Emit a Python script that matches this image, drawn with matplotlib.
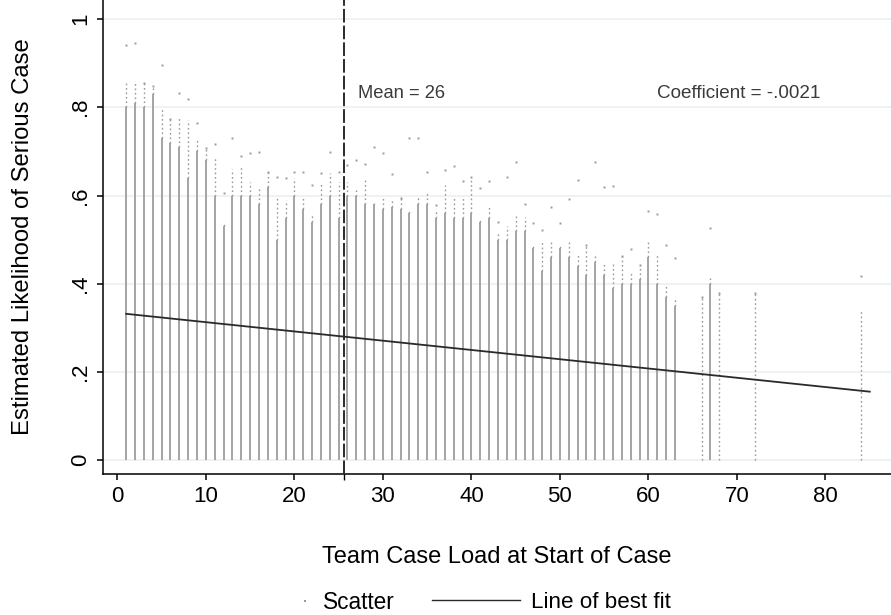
import matplotlib.pyplot as plt
from matplotlib.lines import Line2D

plt.rcParams['font.family'] = ['Liberation Sans', 'DejaVu Sans']

# team case loads that have observations
case_load = list(range(1, 64)) + [66, 67, 68, 72, 84]

# upper end of the dense (solid looking) part of each column
dense_top = [
    0.80, 0.81, 0.80, 0.83, 0.73, 0.72, 0.71, 0.64, 0.70, 0.68,
    0.60, 0.53, 0.60, 0.60, 0.60, 0.58, 0.62, 0.50, 0.55, 0.60,
    0.57, 0.54, 0.58, 0.60, 0.55, 0.60, 0.60, 0.58, 0.58, 0.57,
    0.575, 0.57, 0.56, 0.58, 0.58, 0.55, 0.56, 0.55, 0.55, 0.56,
    0.54, 0.55, 0.50, 0.50, 0.52, 0.52, 0.48, 0.43, 0.46, 0.48,
    0.46, 0.44, 0.42, 0.45, 0.42, 0.39, 0.40, 0.40, 0.41, 0.46,
    0.40, 0.37, 0.35,
    0.0, 0.40, 0.0, 0.0, 0.0,
]
# upper end of the sparse part of each column
sparse_top = [
    0.855, 0.86, 0.855, 0.848, 0.80, 0.773, 0.78, 0.77, 0.726, 0.707,
    0.69, 0.541, 0.66, 0.669, 0.631, 0.617, 0.653, 0.60, 0.59, 0.64,
    0.60, 0.56, 0.63, 0.65, 0.63, 0.63, 0.62, 0.639, 0.583, 0.60,
    0.59, 0.594, 0.567, 0.60, 0.61, 0.57, 0.624, 0.598, 0.60, 0.635,
    0.549, 0.575, 0.515, 0.53, 0.556, 0.552, 0.488, 0.50, 0.50, 0.49,
    0.50, 0.47, 0.488, 0.47, 0.45, 0.45, 0.463, 0.43, 0.443, 0.50,
    0.47, 0.40, 0.37,
    0.371, 0.414, 0.38, 0.379, 0.341,
]
# highest single estimate in each column
peak = [
    0.94, 0.945, 0.855, 0.848, 0.896, 0.773, 0.832, 0.819, 0.764, 0.707,
    0.717, 0.605, 0.731, 0.69, 0.697, 0.699, 0.653, 0.641, 0.639, 0.654,
    0.654, 0.624, 0.650, 0.698, 0.654, 0.669, 0.681, 0.672, 0.709, 0.696,
    0.649, 0.594, 0.731, 0.731, 0.654, 0.579, 0.658, 0.667, 0.632, 0.641,
    0.617, 0.632, 0.541, 0.643, 0.677, 0.58, 0.537, 0.522, 0.575, 0.537,
    0.592, 0.635, 0.488, 0.675, 0.62, 0.622, 0.463, 0.479, 0.443, 0.564,
    0.558, 0.488, 0.458,
    0.371, 0.526, 0.38, 0.379, 0.418,
]

mean_load = 25.6
intercept = 0.334
coef = -0.0021
fit_range = [1, 85]

y_ticks = [0, 0.2, 0.4, 0.6, 0.8, 1]
y_tick_labels = ['0', '.2', '.4', '.6', '.8', '1']
x_ticks = [0, 10, 20, 30, 40, 50, 60, 70, 80]

dot_color = '#999999'
dark = '#2a2a2a'

fig = plt.figure(figsize=(8.91, 6.15), dpi=100)
ax = fig.add_axes([0.1156, 0.2293, 0.8844, 0.7707])

# light horizontal grid
for t in y_ticks:
    ax.axhline(t, color='#e8eff1', lw=1.1, zorder=0)

# columns of estimates
ax.vlines(case_load, 0, dense_top, color=dot_color, lw=1.25, zorder=1)
ax.vlines(case_load, dense_top, sparse_top, color=dot_color, lw=1.0,
          linestyles=(0, (1.2, 2.0)), zorder=1)
ax.plot(case_load, peak, 's', color=dot_color, ms=1.4, mew=0, zorder=1)

# line of best fit
fit_y = [intercept + coef * x for x in fit_range]
ax.plot(fit_range, fit_y, color=dark, lw=1.3, zorder=3)

# mean case load
ax.axvline(mean_load, color=dark, lw=1.4, linestyle=(0, (7, 1.6)), zorder=3)
ax.text(27.2, 0.832, 'Mean = 26', fontsize=13.2, color='#3a3a3a', va='center')
ax.text(61.0, 0.832, 'Coefficient = -.0021', fontsize=13.6, color='#3a3a3a',
        va='center')

ax.set_xlim(-1.62, 87.4)
ax.set_ylim(-0.031, 1.043)
ax.set_xticks(x_ticks)
ax.set_xticks([mean_load], minor=True)
ax.set_yticks(y_ticks)
ax.set_yticklabels(y_tick_labels, rotation=90, va='center')

for side in ['top', 'right']:
    ax.spines[side].set_visible(False)
for side in ['left', 'bottom']:
    ax.spines[side].set_linewidth(1.1)
ax.tick_params(which='both', length=4.5, width=1.1, labelsize=16, pad=4)
ax.tick_params(axis='x', which='minor', length=4.5, width=1.0)

ax.set_xlabel('Team Case Load at Start of Case', fontsize=17, labelpad=28)
ax.set_ylabel('Estimated Likelihood of Serious Case', fontsize=17.2,
              labelpad=26)

# legend, two parts so each handle keeps its own length
scatter_handle = Line2D([], [], marker='s', ms=1.5, mew=0, color=dot_color,
                        linestyle='none')
line_handle = Line2D([], [], color=dark, lw=1.0)
fig.legend([scatter_handle], ['Scatter'], loc='center', frameon=False,
           fontsize=16.3, handlelength=0.8, handletextpad=0.4,
           bbox_to_anchor=(0.388, 0.021))
fig.legend([line_handle], ['Line of best fit'], loc='center', frameon=False,
           fontsize=16.1, handlelength=3.9, handletextpad=0.5,
           bbox_to_anchor=(0.619, 0.021))

fig.savefig('out.png', dpi=100)
